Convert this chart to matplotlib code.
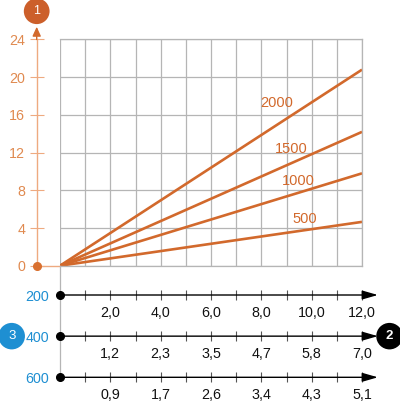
import matplotlib
matplotlib.use("Agg")
import matplotlib.pyplot as plt

plt.rcParams['font.family'] = ['Liberation Sans', 'DejaVu Sans']

# chart data
x_end = [0, 12]
series_names = ["2000", "1500", "1000", "500"]
series_values = [[0, 20.8], [0, 14.2], [0, 9.8], [0, 4.65]]
label_pos = [(8.62, 17.3), (9.18, 12.4), (9.46, 9.0), (9.73, 4.95)]

y_ticks = [0, 4, 8, 12, 16, 20, 24]

row_names = ["200", "400", "600"]
row_ticks = [2, 4, 6, 8, 10, 12]
row_labels = [
    ["2,0", "4,0", "6,0", "8,0", "10,0", "12,0"],
    ["1,2", "2,3", "3,5", "4,7", "5,8", "7,0"],
    ["0,9", "1,7", "2,6", "3,4", "4,3", "5,1"],
]

line_col = "#d2692c"
axis_col = "#eeaa80"
tick_txt = "#e08a50"
blue = "#1e8fd2"
grid_col = "#b5b5b5"

fig = plt.figure(figsize=(4, 4.01), dpi=100)

# main chart
ax = fig.add_axes([0.15, 0.3374, 0.755, 0.5641])
ax.set_xlim(0, 12)
ax.set_ylim(0, 24)
ax.set_xticks(range(0, 13))
ax.set_yticks(y_ticks)
ax.grid(True, color=grid_col, lw=0.9)
ax.set_axisbelow(True)
ax.tick_params(axis='x', length=0, labelbottom=False)
for s in ['top', 'right', 'bottom']:
    ax.spines[s].set_color(grid_col)
    ax.spines[s].set_linewidth(0.9)

ox = -23.3 / 302
ax.spines['left'].set_position(('axes', ox))
ax.spines['left'].set_color(axis_col)
ax.spines['left'].set_linewidth(1)
ax.tick_params(axis='y', direction='inout', length=9.4, width=0.8, color=axis_col,
               labelcolor=tick_txt, labelsize=10.3, pad=3.5)

for vals, name, (lx, ly) in zip(series_values, series_names, label_pos):
    ax.plot(x_end, vals, color=line_col, lw=1.9, solid_capstyle='butt')
    ax.text(lx, ly, name, color=line_col, fontsize=10.5, ha='center', va='center')

yt = ax.get_yaxis_transform()
ax.annotate('', xy=(ox, 25.35), xytext=(ox, 24), xycoords=yt, textcoords=yt,
            arrowprops=dict(arrowstyle='-|>,head_length=0.55,head_width=0.25',
                            color=line_col, lw=1, shrinkA=0, shrinkB=0,
                            mutation_scale=10), annotation_clip=False)
ax.plot([ox, 0], [0, 0], color=axis_col, lw=1, transform=yt, clip_on=False)
ax.plot(ox, 0, 'o', color="#d9702f", ms=5.5, transform=yt, clip_on=False, zorder=5)
ax.text(ox, 27.0, "1", transform=yt, color='white', fontsize=9, ha='center',
        va='center', bbox=dict(boxstyle='circle,pad=0.55', fc="#cc5f2a", ec='none'))

# lower scales
bx = fig.add_axes([0.15, 0.0591, 0.755, 0.2783])
bx.set_xlim(0, 12)
bx.set_ylim(0, 2.712)
for s in ['top', 'right', 'bottom']:
    bx.spines[s].set_visible(False)
bx.spines['left'].set_color(grid_col)
bx.spines['left'].set_linewidth(0.9)
bx.patch.set_alpha(0)
bx.set_xticks([])
rows = [2, 1, 0]
bx.set_yticks(rows)
bx.set_yticklabels(row_names)
bx.tick_params(axis='y', length=0, pad=8, labelcolor=blue, labelsize=10.3)

for r, labels in zip(rows, row_labels):
    bx.annotate('', xy=(12.63, r), xytext=(0, r),
                arrowprops=dict(arrowstyle='-|>,head_length=0.94,head_width=0.27',
                                color='black', lw=1, shrinkA=0, shrinkB=0,
                                mutation_scale=10), annotation_clip=False)
    bx.plot(range(1, 13), [r] * 12, ls='none', marker='|', ms=6.5, mew=0.8,
            color='#555555', clip_on=False)
    bx.plot(0, r, 'o', color='black', ms=5.5, clip_on=False, zorder=5)
    for t, lab in zip(row_ticks, labels):
        bx.annotate(lab, xy=(t, r), xytext=(0, -12.8), textcoords='offset points',
                    ha='center', va='center', fontsize=10.3, color='#111111',
                    annotation_clip=False)

xt = bx.get_yaxis_transform()
bx.text(-48.3 / 302, 1, "3", transform=xt, color='white', fontsize=9.5, ha='center',
        va='center', bbox=dict(boxstyle='circle,pad=0.55', fc=blue, ec='none'))
bx.text(329.5 / 302, 1, "2", transform=xt, color='white', fontsize=9.5, ha='center',
        va='center', fontweight='bold',
        bbox=dict(boxstyle='circle,pad=0.55', fc='black', ec='none'))

fig.savefig("out.png", dpi=100)
